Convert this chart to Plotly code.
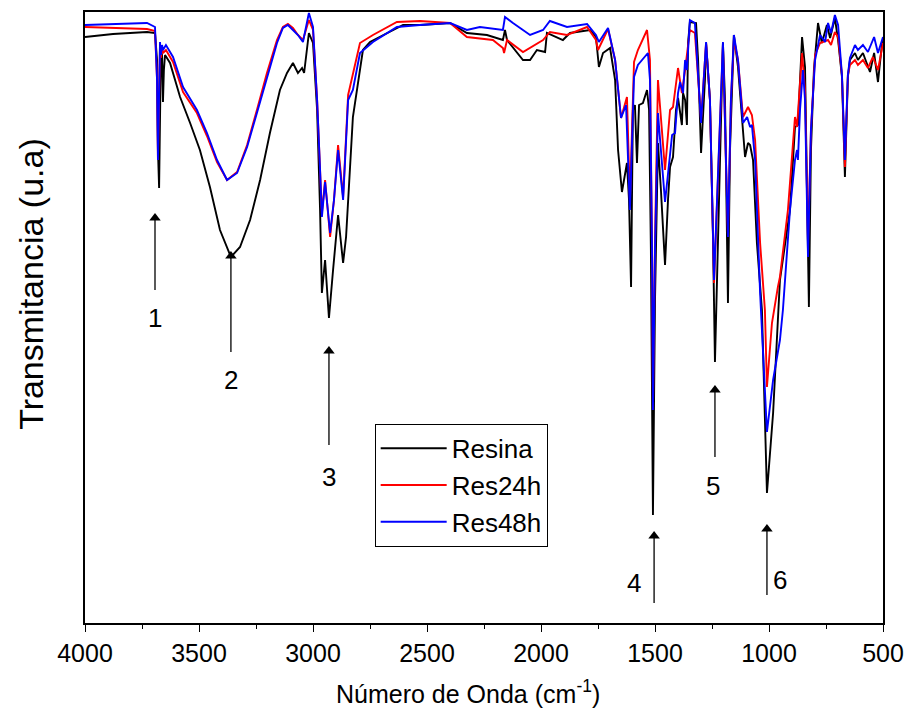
import plotly.graph_objects as go

# ---- Data (wavenumber cm-1, transmittance in arbitrary units) ----
wn_resina = [4000, 3877, 3728, 3693, 3684, 3680, 3675, 3671, 3667, 3662, 3658, 3654, 3649, 3627, 3583, 3539,
             3496, 3452, 3408, 3360, 3320, 3276, 3232, 3189, 3145, 3114, 3088, 3066, 3048, 3039, 3018, 3000,
             2982, 2969, 2961, 2947, 2930, 2912, 2890, 2868, 2855, 2825, 2781, 2750, 2675, 2605, 2531, 2399,
             2325, 2237, 2167, 2158, 2149, 2079, 2048, 2018, 1982, 1974, 1904, 1873, 1785, 1759, 1746, 1728,
             1697, 1675, 1662, 1645, 1623, 1614, 1605, 1597, 1588, 1579, 1570, 1553, 1535, 1526, 1518, 1509,
             1500, 1491, 1487, 1474, 1456, 1443, 1434, 1421, 1408, 1399, 1382, 1377, 1368, 1360, 1355, 1347,
             1320, 1311, 1298, 1281, 1276, 1259, 1246, 1237, 1224, 1215, 1202, 1193, 1180, 1171, 1154, 1136,
             1114, 1105, 1092, 1083, 1070, 1053, 1031, 1009, 982, 952, 908, 886, 873, 855, 842, 833, 825, 816,
             803, 785, 768, 746, 732, 711, 697, 680, 667, 654, 645, 623, 610, 588, 557, 539, 522, 504, 500]
t_resina = [586, 589, 591, 590, 563, 473, 435, 503, 573, 568, 521, 553, 568, 560, 526, 500,
            473, 436, 393, 366, 376, 403, 443, 490, 533, 550, 560, 550, 555, 550, 590, 580,
            513, 413, 330, 363, 305, 353, 408, 360, 386, 506, 573, 581, 590, 598, 598, 600,
            590, 588, 583, 593, 583, 563, 563, 573, 571, 590, 583, 590, 593, 586, 556, 570,
            575, 543, 473, 431, 460, 423, 336, 513, 518, 460, 518, 520, 533, 513, 373, 108,
            323, 453, 480, 433, 358, 423, 456, 466, 513, 525, 498, 530, 523, 498, 580, 601,
            600, 563, 470, 543, 580, 523, 390, 261, 373, 473, 580, 523, 320, 473, 588, 556,
            488, 466, 480, 478, 463, 380, 313, 130, 210, 343, 413, 496, 498, 586, 556, 423, 316, 473,
            553, 600, 580, 598, 585, 605, 583, 546, 446, 546, 563, 570, 563, 570, 551, 570, 541, 580, 583]

wn_res24h = [4000, 3877, 3728, 3693, 3684, 3680, 3675, 3671, 3667, 3662, 3658, 3645, 3614, 3570, 3509, 3465,
             3421, 3377, 3333, 3289, 3246, 3202, 3158, 3132, 3110, 3088, 3066, 3044, 3018, 3000, 2982, 2969,
             2961, 2947, 2925, 2908, 2890, 2868, 2846, 2838, 2794, 2737, 2632, 2531, 2399, 2325, 2211, 2167,
             2162, 2149, 2079, 1991, 1961, 1886, 1798, 1759, 1750, 1706, 1675, 1649, 1623, 1610, 1592, 1575,
             1535, 1522, 1513, 1509, 1500, 1487, 1456, 1434, 1421, 1399, 1382, 1368, 1347, 1325, 1298, 1276,
             1259, 1241, 1228, 1202, 1180, 1167, 1154, 1136, 1114, 1092, 1075, 1061, 1039, 1018, 1009, 987,
             961, 952, 917, 886, 877, 855, 842, 829, 816, 798, 776, 741, 728, 711, 697, 680, 667, 654, 645,
             623, 610, 588, 566, 544, 522, 500]
t_res24h = [596, 595, 594, 592, 543, 463, 523, 578, 565, 575, 570, 573, 561, 531, 510, 487,
            461, 443, 451, 478, 513, 550, 583, 596, 599, 595, 588, 583, 603, 593, 523, 458,
            410, 443, 386, 423, 478, 426, 528, 536, 580, 588, 601, 602, 600, 586, 583, 575,
            570, 583, 571, 583, 591, 588, 596, 583, 573, 594, 563, 505, 526, 423, 561, 573,
            593, 563, 373, 213, 383, 543, 453, 513, 516, 555, 530, 553, 593, 590, 503, 580,
            523, 340, 423, 578, 386, 523, 583, 563, 506, 516, 508, 483, 380, 313, 236, 300,
            336, 346, 413, 506, 496, 570, 533, 380, 493, 568, 580, 583, 578, 591, 586, 548, 456, 548, 558,
            563, 558, 563, 555, 566, 553, 580]

wn_res48h = [4000, 3877, 3728, 3693, 3684, 3680, 3675, 3671, 3667, 3662, 3658, 3645, 3614, 3570, 3509, 3465,
             3421, 3377, 3333, 3289, 3246, 3202, 3158, 3132, 3110, 3088, 3066, 3044, 3018, 3000, 2982, 2969,
             2961, 2947, 2925, 2908, 2890, 2868, 2846, 2825, 2794, 2737, 2632, 2531, 2399, 2325, 2268, 2167,
             2158, 2123, 2048, 1991, 1961, 1886, 1798, 1759, 1746, 1706, 1675, 1649, 1627, 1610, 1592, 1575,
             1531, 1522, 1513, 1509, 1500, 1487, 1456, 1425, 1412, 1399, 1390, 1377, 1368, 1360, 1347, 1325,
             1298, 1276, 1259, 1241, 1228, 1202, 1180, 1167, 1154, 1136, 1114, 1096, 1083, 1075, 1061, 1039,
             1009, 982, 952, 939, 908, 886, 877, 873, 864, 851, 842, 829, 816, 798, 776, 754, 741, 728, 711,
             697, 680, 667, 654, 645, 623, 610, 588, 566, 539, 522, 500]
t_res48h = [598, 599, 600, 596, 543, 463, 523, 581, 568, 578, 573, 578, 566, 536, 513, 490,
            463, 443, 450, 476, 510, 546, 580, 595, 598, 593, 588, 581, 610, 596, 523, 453,
            406, 441, 390, 423, 473, 423, 523, 533, 570, 581, 596, 598, 600, 593, 596, 593,
            606, 600, 588, 593, 602, 596, 599, 588, 581, 595, 563, 505, 518, 413, 546, 558,
            570, 543, 373, 213, 373, 510, 421, 488, 490, 530, 541, 530, 563, 553, 603, 600,
            500, 581, 523, 343, 423, 581, 386, 523, 588, 563, 500, 506, 496, 498, 463, 330,
            191, 243, 283, 313, 413, 463, 473, 463, 513, 553, 523, 366, 493, 563, 588, 581, 600, 590, 608,
            598, 548, 463, 548, 565, 578, 573, 578, 571, 586, 570, 586]

series_names = ["Resina", "Res24h", "Res48h"]
series_colors = ["black", "red", "blue"]

# peak markers (arrows) and their labels
peak_labels = ["1", "2", "3", "4", "5", "6"]
arrow_wn = [3693, 3360, 2930, 1504, 1237, 1009]
arrow_tip = [411, 373, 278, 93, 239, 100]
arrow_tail = [333, 271, 178, 20, 166, 28]
label_wn = [3693, 3360, 2930, 1592, 1246, 952]
label_t = [305, 243, 146, 40, 137, 43]

FONT = "Liberation Sans, Arial, sans-serif"

fig = go.Figure()
for wn, t, name, col in zip([wn_resina, wn_res24h, wn_res48h], [t_resina, t_res24h, t_res48h],
                            series_names, series_colors):
    fig.add_trace(go.Scatter(x=wn, y=t, mode="lines", name=name,
                             line=dict(color=col, width=1.9)))

# arrow shafts
shaft_x, shaft_y = [], []
for xw, tip, tail in zip(arrow_wn, arrow_tip, arrow_tail):
    shaft_x += [xw, xw, None]
    shaft_y += [tail, tip - 8, None]
fig.add_trace(go.Scatter(x=shaft_x, y=shaft_y, mode="lines", showlegend=False, hoverinfo="skip",
                         line=dict(color="black", width=1.3)))
# arrow heads
fig.add_trace(go.Scatter(x=arrow_wn, y=[t - 6 for t in arrow_tip], mode="markers", showlegend=False,
                         hoverinfo="skip",
                         marker=dict(symbol="triangle-up", size=10, color="black", line=dict(width=0))))

annotations = []
for lab, lx, ly in zip(peak_labels, label_wn, label_t):
    annotations.append(dict(x=lx, y=ly, xref="x", yref="y", text=lab, showarrow=False,
                            font=dict(size=26, color="black", family=FONT)))
annotations.append(dict(x=-0.0677, y=0.555, xref="paper", yref="paper", text="Transmitancia (u.a)",
                        textangle=-90, showarrow=False, xanchor="center", yanchor="middle",
                        font=dict(size=34, color="black", family=FONT)))
annotations.append(dict(x=0.48, y=-0.113, xref="paper", yref="paper",
                        text="Número de Onda (cm<sup>-1</sup>)",
                        showarrow=False, xanchor="center", yanchor="middle",
                        font=dict(size=25, color="black", family=FONT)))

fig.update_layout(
    width=908, height=717,
    margin=dict(l=85, r=25, t=12, b=94, autoexpand=False),
    paper_bgcolor="white", plot_bgcolor="white",
    font=dict(family=FONT, color="black", size=24),
    showlegend=True,
    legend=dict(x=0.363, y=0.326, xanchor="left", yanchor="top",
                bgcolor="white", bordercolor="black", borderwidth=1,
                font=dict(size=26, family=FONT), itemwidth=66, tracegroupgap=0),
    annotations=annotations,
)
fig.update_xaxes(range=[4000, 500], tickmode="array",
                 tickvals=[4000, 3500, 3000, 2500, 2000, 1500, 1000, 500],
                 ticks="outside", ticklen=7, tickwidth=1.2, tickcolor="black",
                 minor=dict(tickvals=[3750, 3250, 2750, 2250, 1750, 1250, 750], ticks="outside",
                            ticklen=4, tickwidth=1.2, tickcolor="black"),
                 showline=True, linecolor="black", linewidth=1.5, mirror=True,
                 showgrid=False, zeroline=False, automargin=False,
                 tickfont=dict(size=25, family=FONT))
fig.update_yaxes(range=[0, 611], showticklabels=False, ticks="",
                 showline=True, linecolor="black", linewidth=1.5, mirror=True,
                 showgrid=False, zeroline=False, automargin=False)

fig.write_html("out.html")
